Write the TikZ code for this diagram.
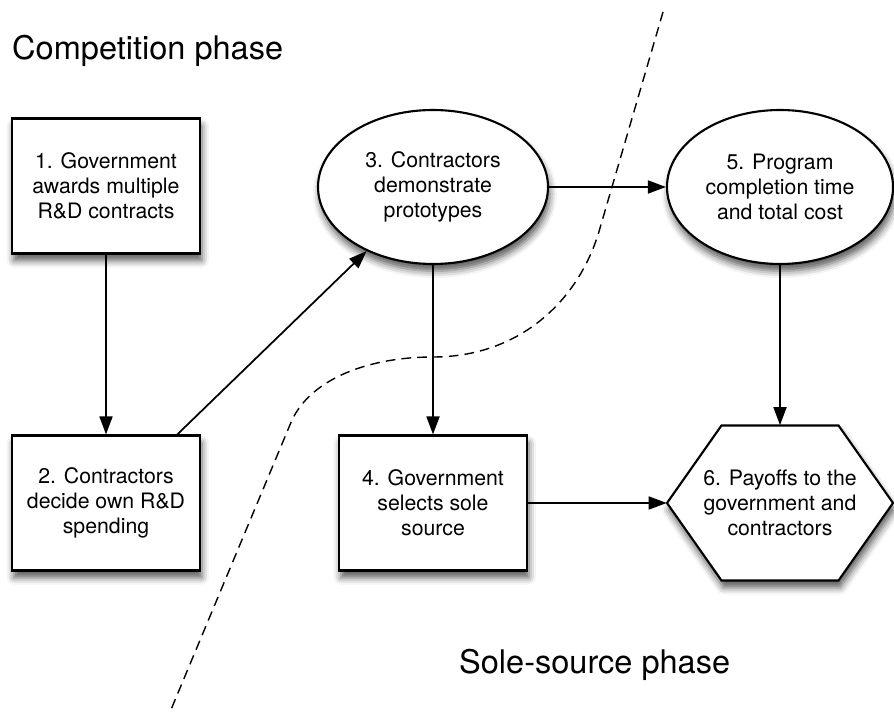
\documentclass[tikz,border=0pt]{standalone}
\usepackage{fontspec}
\setmainfont{TeX Gyre Heros}
\usetikzlibrary{arrows.meta,shapes.geometric,shadows.blur,calc}

\begin{document}
\begin{tikzpicture}[
		shade/.style={blur shadow={shadow xshift=1pt, shadow yshift=-4pt, shadow blur radius=4pt, shadow opacity=65}},
		txt/.style={align=center, font=\fontsize{12.1}{14.2}\selectfont},
		box/.style={txt, shade, draw, line width=1.2pt, fill=white},
		rect/.style={box, rectangle, minimum width=3.76cm, minimum height=2.7cm},
		oval/.style={box, ellipse, inner sep=0pt, minimum width=4.6cm, minimum height=3.08cm},
		flow/.style={-{Triangle[length=0.36cm, width=0.26cm]}, line width=1pt},
		phase/.style={font=\fontsize{18.5}{22}\selectfont, anchor=base west}]
		\useasboundingbox (0,0) rectangle (17.88,14.26);

		% dividing line between the two phases
		\draw[dashed, line width=0.8pt, dash pattern=on 5.5pt off 3.5pt]
			(13.26,14.02) -- (12,9.7)
			.. controls (11.6,8.26) and (10.4,7.12) .. (8.66,7.12)
			.. controls (7.4,7.12) and (6.24,6.7) .. (5.84,5.86)
			-- (3.4,0.02);

		\node[phase] (cphase) at (0.12,13.06) {Competition phase};
		\node[phase] (sphase) at (9.06,0.8) {Sole-source phase};

		\node[rect] (s1) at (2.12,10.54) {1. Government\\awards multiple\\R\&D contracts};
		\node[rect] (s2) at (2.12,4.2) {2. Contractors\\decide own R\&D\\spending};
		\node[oval] (s3) at (8.66,10.52) {3. Contractors\\demonstrate\\prototypes};
		\node[rect] (s4) at (8.66,4.2) {4. Government\\selects sole\\source};
		\node[oval, minimum width=4.52cm] (s5) at (15.6,10.52) {5. Program\\completion time\\and total cost};

		% hexagon for the payoffs, text node sits on top
		\begin{scope}[shift={(15.6,4.2)}]
			\draw[shade, line width=1.2pt, fill=white, line join=miter]
				(-2.26,0) -- (-1.17,1.55) -- (1.17,1.55) -- (2.26,0) -- (1.17,-1.55) -- (-1.17,-1.55) -- cycle;
		\end{scope}
		\node[txt, minimum width=4.52cm, minimum height=3.1cm, inner sep=0pt] (s6) at (15.6,4.2)
			{6. Payoffs to the\\government and\\contractors};

		\draw[flow] (s1) -- (s2);
		\draw[flow] ($(s2.north)!0.75!(s2.north east)$) -- (s3.224);
		\draw[flow] (s3) -- (s4);
		\draw[flow] (s3) -- (s5);
		\draw[flow] (s5) -- (s6);
		\draw[flow] (s4) -- (s6);
	\end{tikzpicture}
\end{document}
